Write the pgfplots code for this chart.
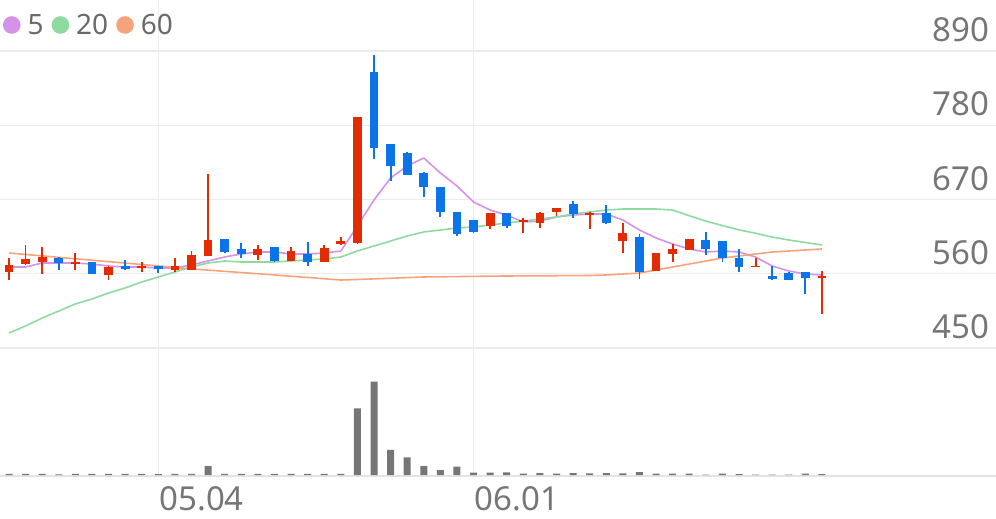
\documentclass[border=0pt]{standalone}
\usepackage{fontspec}
\setmainfont{Noto Sans}
\usepackage{pgfplots}
\usepackage{pgfplotstable}
\pgfplotsset{compat=1.18}

\definecolor{upred}{RGB}{226,43,0}
\definecolor{downblue}{RGB}{10,116,232}
\definecolor{mafive}{RGB}{212,146,232}
\definecolor{matwenty}{RGB}{142,218,160}
\definecolor{masixty}{RGB}{246,163,124}
\definecolor{volgray}{RGB}{118,118,118}
\definecolor{gridgray}{RGB}{236,236,236}
\definecolor{basegray}{RGB}{228,228,228}
\definecolor{labelgray}{RGB}{118,118,118}
\definecolor{legendgray}{RGB}{105,105,105}

% candles: index, open, high, low, close
\pgfplotstableread{
i o h l c
0 563 583 551 573
1 575 603 573 582
2 578 600 560 585
4 575 591 566 578
6 558 571 551 570
8 569 578 562 571
10 566 584 563 571
11 566 594 566 588
12 586 708 586 610
15 588 602 580 596
17 579 599 579 594
19 578 602 578 598
20 604 614 603 608
21 606 792 604 792
29 631 650 627 650
31 636 642 621 639
32 635 652 628 650
33 652 658 646 658
35 647 652 627 650
37 609 635 590 621
39 564 591 564 591
40 589 604 577 597
41 595 612 595 611
45 570 583 570 571.5
49 553 564 500 557
}\upcandles

\pgfplotstableread{
i o h l c
3 584 585 566 576
5 577 577 560 560
7 571 580 565 567
9 572 572 561 567
13 611 612 590 592
14 596 605 583 589
16 600 600 578 579
18 589 607 571 578
22 859 884 730 747
23 752 752 697 720
24 739 741 706 706
25 709 710 673 689
26 689 689 644 651
27 652 652 616 619
28 640 640 620 622
30 650 650 628 631
34 663 668 643 648
36 650 662 633 635
38 615 619 552 562
42 610 622 588 596
43 609 609 577 583
44 584 596 562 570
46 556 572 550 552
47 561 562 551 551
48 562 562 530 553
}\downcandles

% moving averages 5, 20, 60
\pgfplotstableread{
i ma5 ma20 ma60
0 570.0 472.2 590.7
1 570.0 482.6 588.6
2 575.9 494.4 586.5
3 575.9 504.8 584.3
4 575.9 515.2 582.2
5 574.4 522.6 580.1
6 571.5 531.5 577.9
7 570.0 538.9 575.8
8 570.0 547.8 573.7
9 568.5 555.2 571.5
10 568.5 562.6 569.4
11 573.0 570.0 567.2
12 578.9 575.9 565.4
13 584.8 578.9 563.6
14 589.3 577.4 561.8
15 592.2 577.4 560.0
16 592.2 577.4 558.2
17 589.3 578.9 556.3
18 589.3 580.4 554.5
19 590.7 581.9 552.6
20 593.7 584.8 550.7
21 630.7 593.7 551.5
22 669.3 601.1 552.4
23 701.9 608.5 553.3
24 719.6 615.9 554.3
25 731.5 621.9 555.2
26 709.3 624.8 555.5
27 690.0 627.8 555.8
28 666.3 629.3 556.1
29 654.4 632.2 556.4
30 647.0 635.2 556.7
31 636.7 638.1 556.8
32 638.1 641.1 556.9
33 644.1 644.1 557.1
34 647.0 648.5 557.2
35 648.5 651.5 557.4
36 648.5 654.4 558.2
37 639.6 655.9 559.6
38 624.8 655.9 561.1
39 613.0 655.9 565.5
40 604.1 654.4 570.0
41 596.7 646.0 574.4
42 592.2 638.0 578.9
43 593.7 631.4 583.3
44 592.2 625.0 586.3
45 584.8 620.0 589.3
46 571.5 614.4 592.2
47 564.1 610.0 593.7
48 559.6 606.3 595.2
49 558.1 602.6 596.7
}\malines

\pgfplotstableread{
i v
0 1.2
1 1.2
2 1.2
3 0.6
4 1.2
5 1.2
6 1.2
7 1.2
8 1.2
9 1.0
10 1.2
11 1.2
12 9.0
13 1.2
14 1.2
15 1.2
16 1.2
17 1.2
18 1.2
19 1.2
20 1.2
21 66.7
22 93.3
23 25.0
24 17.7
25 9.0
26 5.0
27 8.3
28 2.5
29 2.5
30 2.7
31 1.3
32 2.0
33 1.3
34 2.0
35 1.7
36 2.0
37 1.7
38 3.0
39 1.3
40 1.3
41 1.3
42 0.5
43 1.5
44 1.0
45 0.5
46 0.5
47 0.5
48 1.5
49 1.0
}\volume

\pgfplotsset{
  chartbase/.style={
    scale only axis, width=996bp,
    xmin=-0.5425, xmax=59.49,
    axis line style={draw=none}, major tick length=0pt,
    xtick={9,28}, xmajorgrids,
    grid style={gridgray, line width=1.3bp},
  },
  % candle part drawn as a vertical error bar from its y value upward
  candle/.style 2 args={draw=none, mark=none, forget plot,
    error bars/.cd, y dir=plus, y explicit, error mark=none,
    error bar style={draw=#1, line width=#2, line cap=butt}},
}

\begin{document}
\begin{tikzpicture}
\useasboundingbox (0,0) rectangle (996bp,519bp);

% price panel
\begin{axis}[chartbase,
  at={(0bp,169bp)}, anchor=south west, height=350bp,
  ymin=447.04, ymax=965.56,
  xticklabels={,},
  ytick={450,560,670,780,890}, ymajorgrids,
  yticklabel pos=right,
  /pgf/number format/assume math mode=true,
  yticklabel style={anchor=base east, inner sep=0pt, xshift=-6.5bp, yshift=9.3bp,
    font=\fontsize{33bp}{33bp}\selectfont, text=labelgray},
  legend columns=-1,
  legend image code/.code={\fill[#1] (8bp,0bp) circle (8bp);},
  legend style={at={(axis description cs:0.003,0.9286)}, anchor=west,
    draw=none, fill=none, inner sep=0pt, outer sep=0pt,
    cells={anchor=center}, nodes={inner sep=0pt},
    font=\fontsize{28bp}{28bp}\selectfont, text=legendgray,
    /tikz/every odd column/.style={column sep=7bp},
    /tikz/every even column/.style={column sep=8bp}},
]
\addplot[color=mafive, line width=1.6bp, line join=round, mark=none] table[x=i, y=ma5] {\malines};
\addlegendentry{5}
\addplot[color=matwenty, line width=1.6bp, line join=round, mark=none] table[x=i, y=ma20] {\malines};
\addlegendentry{20}
\addplot[color=masixty, line width=1.6bp, line join=round, mark=none] table[x=i, y=ma60] {\malines};
\addlegendentry{60}

% wicks
\addplot[candle={upred}{1.8bp}]
  table[x=i, y=l, y error expr=\thisrow{h}-\thisrow{l}] {\upcandles};
\addplot[candle={downblue}{1.8bp}]
  table[x=i, y=l, y error expr=\thisrow{h}-\thisrow{l}] {\downcandles};
% bodies
\addplot[candle={upred}{8.8bp}]
  table[x=i, y=o, y error expr=\thisrow{c}-\thisrow{o}] {\upcandles};
\addplot[candle={downblue}{8.8bp}]
  table[x=i, y=c, y error expr=\thisrow{o}-\thisrow{c}] {\downcandles};
\end{axis}

% volume panel
\begin{axis}[chartbase,
  at={(0bp,41.5bp)}, anchor=south west, height=127.5bp,
  ymin=-2.5, ymax=125,
  xticklabels={05.04,06.01},
  xticklabel style={anchor=base west, inner sep=0pt, xshift=1bp, yshift=-33.5bp,
    font=\fontsize{33bp}{33bp}\selectfont, text=labelgray},
  ytick=\empty,
  extra y ticks={-1.2}, extra y tick labels={},
  extra y tick style={grid=major, major grid style={basegray, line width=2.3bp}},
]
\addplot[ybar, bar width=7bp, bar shift=0pt, fill=volgray, draw=none] table[x=i, y=v] {\volume};
\end{axis}
\end{tikzpicture}
\end{document}
